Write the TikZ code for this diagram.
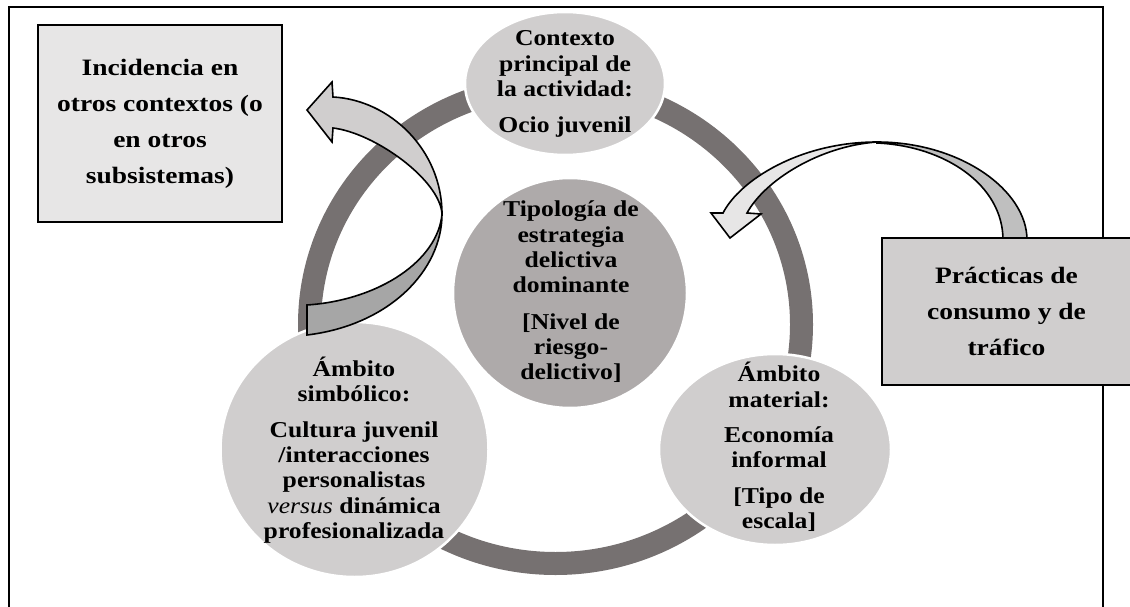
\documentclass[tikz,border=0pt]{standalone}
\usepackage{fontspec}
\setmainfont{Liberation Serif}
\newfontfamily\circfont[FakeStretch=1.13]{Liberation Serif}
\newfontfamily\boxfont[FakeStretch=1.17]{Liberation Serif}
\usetikzlibrary{shapes.geometric}
\definecolor{ringc}{HTML}{767171}
\definecolor{lightc}{HTML}{D0CECE}
\definecolor{midc}{HTML}{AEAAAA}
\definecolor{palec}{HTML}{E7E6E6}
\definecolor{arrdark}{HTML}{A6A6A6}
\definecolor{arrmid}{HTML}{BFBFBF}
\begin{document}
\begin{tikzpicture}[x=1pt,y=-1pt,
  ctext/.style={align=center, font=\circfont\bfseries\fontsize{22.7}{25.3}\selectfont, text=black, inner sep=0pt},
  btext/.style={align=center, font=\boxfont\bfseries\fontsize{23.5}{36}\selectfont, text=black, inner sep=0pt},
  bubble/.style={ellipse, draw=white, line width=2.5pt, inner sep=0pt},
  boxstyle/.style={draw=black, line width=2pt, inner sep=0pt},
  arrowpart/.style={draw=black, line width=1.6pt, line join=miter}]
\useasboundingbox (0,0) rectangle (1130,607);
\clip (0,0) rectangle (1130,607);
% frame
\draw[line width=1.5pt] (9,7) rectangle (1103,700);
% ring
\draw[ringc, line width=23pt] (555.5,324.5) ellipse [x radius=246pt, y radius=239pt];
% bubbles
\node[bubble, fill=lightc, minimum width=200pt, minimum height=143pt] (ctxshape) at (565,83.5) {};
\node[bubble, fill=midc, minimum width=234pt, minimum height=230pt] (tipshape) at (570,293) {};
\node[bubble, fill=lightc, minimum width=268pt, minimum height=255pt] (simshape) at (354.5,449.5) {};
\node[bubble, fill=lightc, minimum width=232pt, minimum height=191pt] (matshape) at (775,449.5) {};
% bubble texts
\node[ctext] (ctx) at (565,84) {Contexto\\principal de\\la actividad:\\[10.5pt]Ocio juvenil};
\node[ctext] (tip) at (571,292) {Tipología de\\estrategia\\delictiva\\dominante\\[11pt][Nivel de\\riesgo-\\delictivo]};
\node[ctext] (sim) at (354,450) {Ámbito\\simbólico:\\[10.5pt]Cultura juvenil\\/interacciones\\personalistas\\{\mdseries\itshape versus} dinámica\\profesionalizada};
\node[ctext] (mat) at (779,447) {Ámbito\\material:\\[10pt]Economía\\informal\\[10.5pt][Tipo de\\escala]};
% left curved arrow
\draw[arrowpart, fill=arrdark] (442,214) .. controls (442,270) and (390,325) .. (307,335) -- (307,305) .. controls (380,300) and (438,260) .. (442,214) -- cycle;
\draw[arrowpart, fill=lightc] (333,97) .. controls (390,100) and (442,150) .. (442,214) .. controls (440,180) and (375,133) .. (333,128) -- (332,142) -- (307,110) -- (332,82) -- cycle;
% right curved arrow
\draw[arrowpart, fill=arrmid] (877,142) .. controls (960,142) and (1027,190) .. (1027,240) -- (1003,240) .. controls (1003,185) and (945,146) .. (877,143) -- cycle;
\draw[arrowpart, fill=palec] (723,213) .. controls (740,180) and (800,142) .. (877,142) .. controls (820,146) and (765,180) .. (747,213) -- (761,214) -- (730,238) -- (711,213) -- cycle;
% boxes
\node[boxstyle, btext, fill=palec, minimum width=244pt, minimum height=197pt] (inc) at (160,123.5) {Incidencia en\\otros contextos (o\\en otros\\subsistemas)};
\node[boxstyle, btext, fill=lightc, minimum width=249pt, minimum height=147pt] (prac) at (1006.5,311.5) {Prácticas de\\consumo y de\\tráfico};
\end{tikzpicture}
\end{document}
